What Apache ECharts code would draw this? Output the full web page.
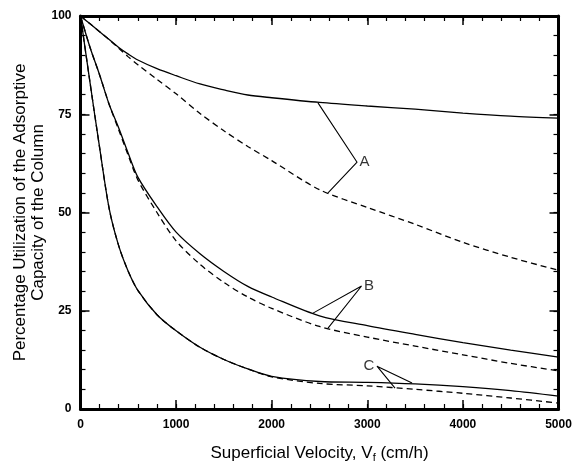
<!DOCTYPE html>
<html>
<head>
<meta charset="utf-8">
<script src="https://cdn.jsdelivr.net/npm/echarts@6/dist/echarts.min.js"></script>
<style>
  html, body { margin: 0; padding: 0; background: #fff; }
  #chart { width: 572px; height: 463px; }
</style>
</head>
<body>
<div id="chart"></div>
<script>
// superficial velocity (cm/h) shared by every curve
const velocity = [0, 100, 200, 300, 400, 500, 600, 800, 1000, 1250, 1500, 1750, 2000, 2500, 3000, 3500, 4000, 4500, 5000];

// percentage utilization
const aSolid  = [100, 98, 96, 94, 92, 90.3, 88.8, 86.6, 84.8, 82.7, 81.2, 79.9, 79.2, 78, 77.1, 76.3, 75.3, 74.5, 74];
const aDashed = [100, 98, 96, 94, 91.8, 89.6, 87.6, 83.9, 80.2, 75.2, 70.8, 66.8, 63.2, 55.8, 51.3, 47, 42.4, 38.6, 35.3];
const bSolid  = [100, 92, 85, 77.5, 71.5, 65, 59, 51.5, 45, 39.5, 35, 31.2, 28.5, 23.7, 21.2, 19, 16.9, 15, 13.2];
const bDashed = [100, 92, 85, 77.5, 71, 64.5, 58.3, 50, 42.8, 36.8, 32.2, 28.5, 25.6, 21, 18.3, 16, 13.8, 11.6, 9.7];
const cSolid  = [100, 83, 66.5, 51, 41.5, 35, 30.2, 24, 19.9, 15.7, 12.6, 10.2, 8.3, 7, 6.8, 6.4, 5.7, 4.7, 3.3];
const cDashed = [100, 83, 66.5, 51, 41.5, 35, 30.2, 24, 19.9, 15.7, 12.6, 10.2, 8.2, 6.5, 5.9, 5, 4, 2.8, 1.5];

// leader lines for the curve labels: [solid end, vertex, dashed end]
const leaderA = [[2484, 77.9], [2893, 62.8], [2589, 55.0]];
const leaderB = [[2432, 24.4], [2940, 31.3], [2589, 20.6]];
const leaderC = [[3468, 6.6], [3101, 10.9], [3290, 5.3]];
const curveLabels = ['A', 'B', 'C'];

const xTicks = [0, 1000, 2000, 3000, 4000, 5000];
const yTicks = [0, 25, 50, 75, 100];
const xMinorStep = 200;
const yMinorStep = 5;

const pairs = ys => velocity.map((x, i) => [x, ys[i]]);

const font = 'Liberation Sans, Arial, sans-serif';

// one axis: major (with frame line) or minor (ticks only)
function axis(ticks, step, position, major) {
    return {
        type: 'value',
        position: position,
        min: ticks[0],
        max: ticks[ticks.length - 1],
        interval: step,
        axisLine: {show: major, onZero: false, lineStyle: {color: '#000', width: 3}},
        axisTick: {
            show: true, inside: true, length: major ? 9 : 5,
            lineStyle: {color: '#000', width: major ? 1.5 : 1.2}
        },
        axisLabel: {show: false},
        splitLine: {show: false},
        nameMoveOverlap: false,
    };
}

function curve(ys, dashed) {
    return {
        type: 'line',
        data: pairs(ys),
        showSymbol: false,
        symbol: 'none',
        smooth: 0.3,
        lineStyle: {color: '#000', width: 1.3, type: dashed ? [6, 4] : 'solid'},
        z: 3,
    };
}

function leader(pts) {
    return {
        type: 'line',
        data: pts,
        symbol: 'none',
        lineStyle: {color: '#000', width: 1.1},
        z: 4,
    };
}

const xMain = axis(xTicks, xTicks[1] - xTicks[0], 'bottom', true);
xMain.axisLabel = {show: true, color: '#000', fontSize: 12, fontWeight: 'bold', margin: 10, fontFamily: font, formatter: v => String(v)};
xMain.name = 'Superficial Velocity, V{sub|f} (cm/h)';
xMain.nameLocation = 'middle';
xMain.nameGap = 35;
xMain.nameTextStyle = {
    color: '#000', fontSize: 17, fontFamily: font,
    rich: {sub: {fontSize: 11, fontFamily: font, color: '#000', padding: [8, 0, 0, 0]}}
};

const yMain = axis(yTicks, yTicks[1] - yTicks[0], 'left', true);
yMain.axisLabel = {show: true, color: '#000', fontSize: 12, fontWeight: 'bold', margin: 9, fontFamily: font};
yMain.name = 'Percentage Utilization of the Adsorptive\nCapacity of the Column';
yMain.nameLocation = 'middle';
yMain.nameRotate = 90;
yMain.nameGap = 33;
yMain.nameTextStyle = {color: '#000', fontSize: 17, lineHeight: 18, fontFamily: font};

const myChart = echarts.init(document.getElementById('chart'));
myChart.setOption({
    animation: false,
    backgroundColor: '#fff',
    textStyle: {fontFamily: font},
    grid: {left: 80.5, right: 13.5, top: 16, bottom: 54, outerBoundsMode: 'none', containLabel: false},
    xAxis: [
        xMain,
        axis(xTicks, xTicks[1] - xTicks[0], 'top', true),
        axis(xTicks, xMinorStep, 'bottom', false),
        axis(xTicks, xMinorStep, 'top', false),
    ],
    yAxis: [
        yMain,
        axis(yTicks, yTicks[1] - yTicks[0], 'right', true),
        axis(yTicks, yMinorStep, 'left', false),
        axis(yTicks, yMinorStep, 'right', false),
    ],
    series: [
        curve(aSolid, false),
        curve(aDashed, true),
        curve(bSolid, false),
        curve(bDashed, true),
        curve(cSolid, false),
        curve(cDashed, true),
        leader(leaderA),
        leader(leaderB),
        leader(leaderC),
        {
            type: 'scatter',
            symbolSize: 1,
            itemStyle: {color: 'rgba(0,0,0,0)'},
            data: [leaderA, leaderB, leaderC].map((l, i) => ({
                value: [l[1][0], l[1][1], curveLabels[i]],
                label: {position: i === 2 ? 'left' : 'right', distance: 2},
            })),
            label: {
                show: true,
                formatter: p => p.value[2],
                color: '#000',
                fontSize: 15,
                fontFamily: font,
            },
            z: 5,
        },
    ],
});
</script>
</body>
</html>
